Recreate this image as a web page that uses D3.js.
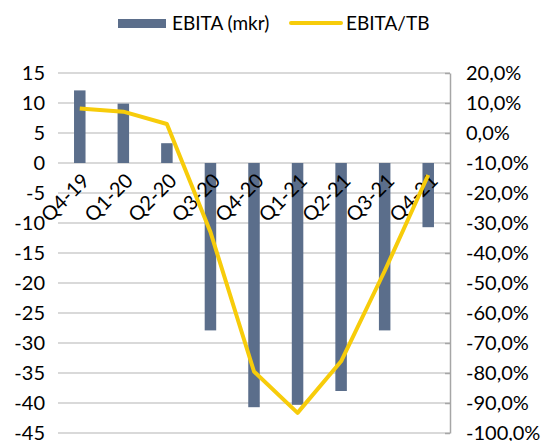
<!DOCTYPE html>
<html>
<head>
<meta charset="utf-8">
<script src="https://cdn.jsdelivr.net/npm/d3@7"></script>
<style>
  body { margin: 0; background: #fff; }
  text { font-family: Lato, "Open Sans", sans-serif; fill: #000; }
</style>
</head>
<body>
<svg width="543" height="441"></svg>
<script>
// data
var quarters = ["Q4-19", "Q1-20", "Q2-20", "Q3-20", "Q4-20", "Q1-21", "Q2-21", "Q3-21", "Q4-21"];
var ebita = [12.1, 9.9, 3.3, -27.9, -40.7, -40.3, -38.0, -27.9, -10.7];
var ebitaTB = [8.2, 7.1, 3.0, -33.0, -79.5, -93.3, -76.1, -46.0, -14.0];
var leftTicks = [15, 10, 5, 0, -5, -10, -15, -20, -25, -30, -35, -40, -45];
var rightTicks = [20, 10, 0, -10, -20, -30, -40, -50, -60, -70, -80, -90, -100];

var svg = d3.select("svg");

var plotLeft = 58, plotRight = 450, plotTop = 73, plotBottom = 433;

var x = d3.scaleBand()
    .domain(quarters)
    .range([plotLeft, plotRight])
    .padding(0);

var yL = d3.scaleLinear().domain([-45, 15]).range([plotBottom, plotTop]);
var yR = d3.scaleLinear().domain([-100, 20]).range([plotBottom, plotTop]);

var barColor = "#5b6e8b", lineColor = "#f7cc0a";

// gridlines
svg.append("g")
    .selectAll("line")
    .data(leftTicks)
    .enter()
    .append("line")
    .attr("x1", plotLeft)
    .attr("x2", plotRight)
    .attr("y1", d => yL(d))
    .attr("y2", d => yL(d))
    .attr("stroke", "#d9d9d9")
    .attr("stroke-width", 2);

// left axis labels
svg.append("g")
    .selectAll("text")
    .data(leftTicks)
    .enter()
    .append("text")
    .attr("x", 45)
    .attr("y", d => yL(d))
    .attr("dy", "0.35em")
    .attr("text-anchor", "end")
    .style("font-size", "20px")
    .text(d => d);

// right axis
var fmt = d => d.toFixed(1).replace(".", ",") + "%";
var rightAxis = svg.append("g")
    .attr("transform", "translate(" + plotRight + ",0)")
    .call(d3.axisRight(yR).tickValues(rightTicks).tickSize(0).tickFormat(fmt).tickPadding(16));
rightAxis.select(".domain").attr("stroke", "#a6a6a6").attr("stroke-width", 1.5);
rightAxis.selectAll(".tick line").attr("x1", -5).attr("x2", 0).attr("stroke", "#a6a6a6").attr("stroke-width", 1.5);
rightAxis.selectAll(".tick text").style("font-size", "20px").attr("fill", "#000").style("font-family", "Lato, sans-serif");

// bars
var barW = 11.5;
svg.append("g")
    .selectAll("rect")
    .data(quarters)
    .enter()
    .append("rect")
    .attr("x", (d, i) => x(d) + x.bandwidth() / 2 - barW / 2)
    .attr("width", barW)
    .attr("y", (d, i) => yL(Math.max(0, ebita[i])))
    .attr("height", (d, i) => Math.abs(yL(ebita[i]) - yL(0)))
    .attr("fill", barColor);

// category labels, rotated
svg.append("g")
    .selectAll("text")
    .data(quarters)
    .enter()
    .append("text")
    .attr("transform", d => "translate(" + (x(d) + x.bandwidth() / 2 + 6) + "," + (yL(0) + 14) + ") rotate(-45)")
    .attr("text-anchor", "end")
    .attr("dy", "0.35em")
    .style("font-size", "20px")
    .text(d => d);

// line
var line = d3.line()
    .x((d, i) => x(quarters[i]) + x.bandwidth() / 2)
    .y(d => yR(d));
svg.append("path")
    .datum(ebitaTB)
    .attr("d", line)
    .attr("fill", "none")
    .attr("stroke", lineColor)
    .attr("stroke-width", 4)
    .attr("stroke-linejoin", "round");

// legend
var legend = svg.append("g");
legend.append("rect")
    .attr("x", 118).attr("y", 19).attr("width", 48).attr("height", 9)
    .attr("fill", barColor);
legend.append("text")
    .attr("x", 172).attr("y", 23.5).attr("dy", "0.35em")
    .style("font-size", "19px")
    .text("EBITA (mkr)");
legend.append("line")
    .attr("x1", 291).attr("x2", 341).attr("y1", 23).attr("y2", 23)
    .attr("stroke", lineColor).attr("stroke-width", 4).attr("stroke-linecap", "round");
legend.append("text")
    .attr("x", 346).attr("y", 23.5).attr("dy", "0.35em")
    .style("font-size", "19px")
    .text("EBITA/TB");
</script>
</body>
</html>
